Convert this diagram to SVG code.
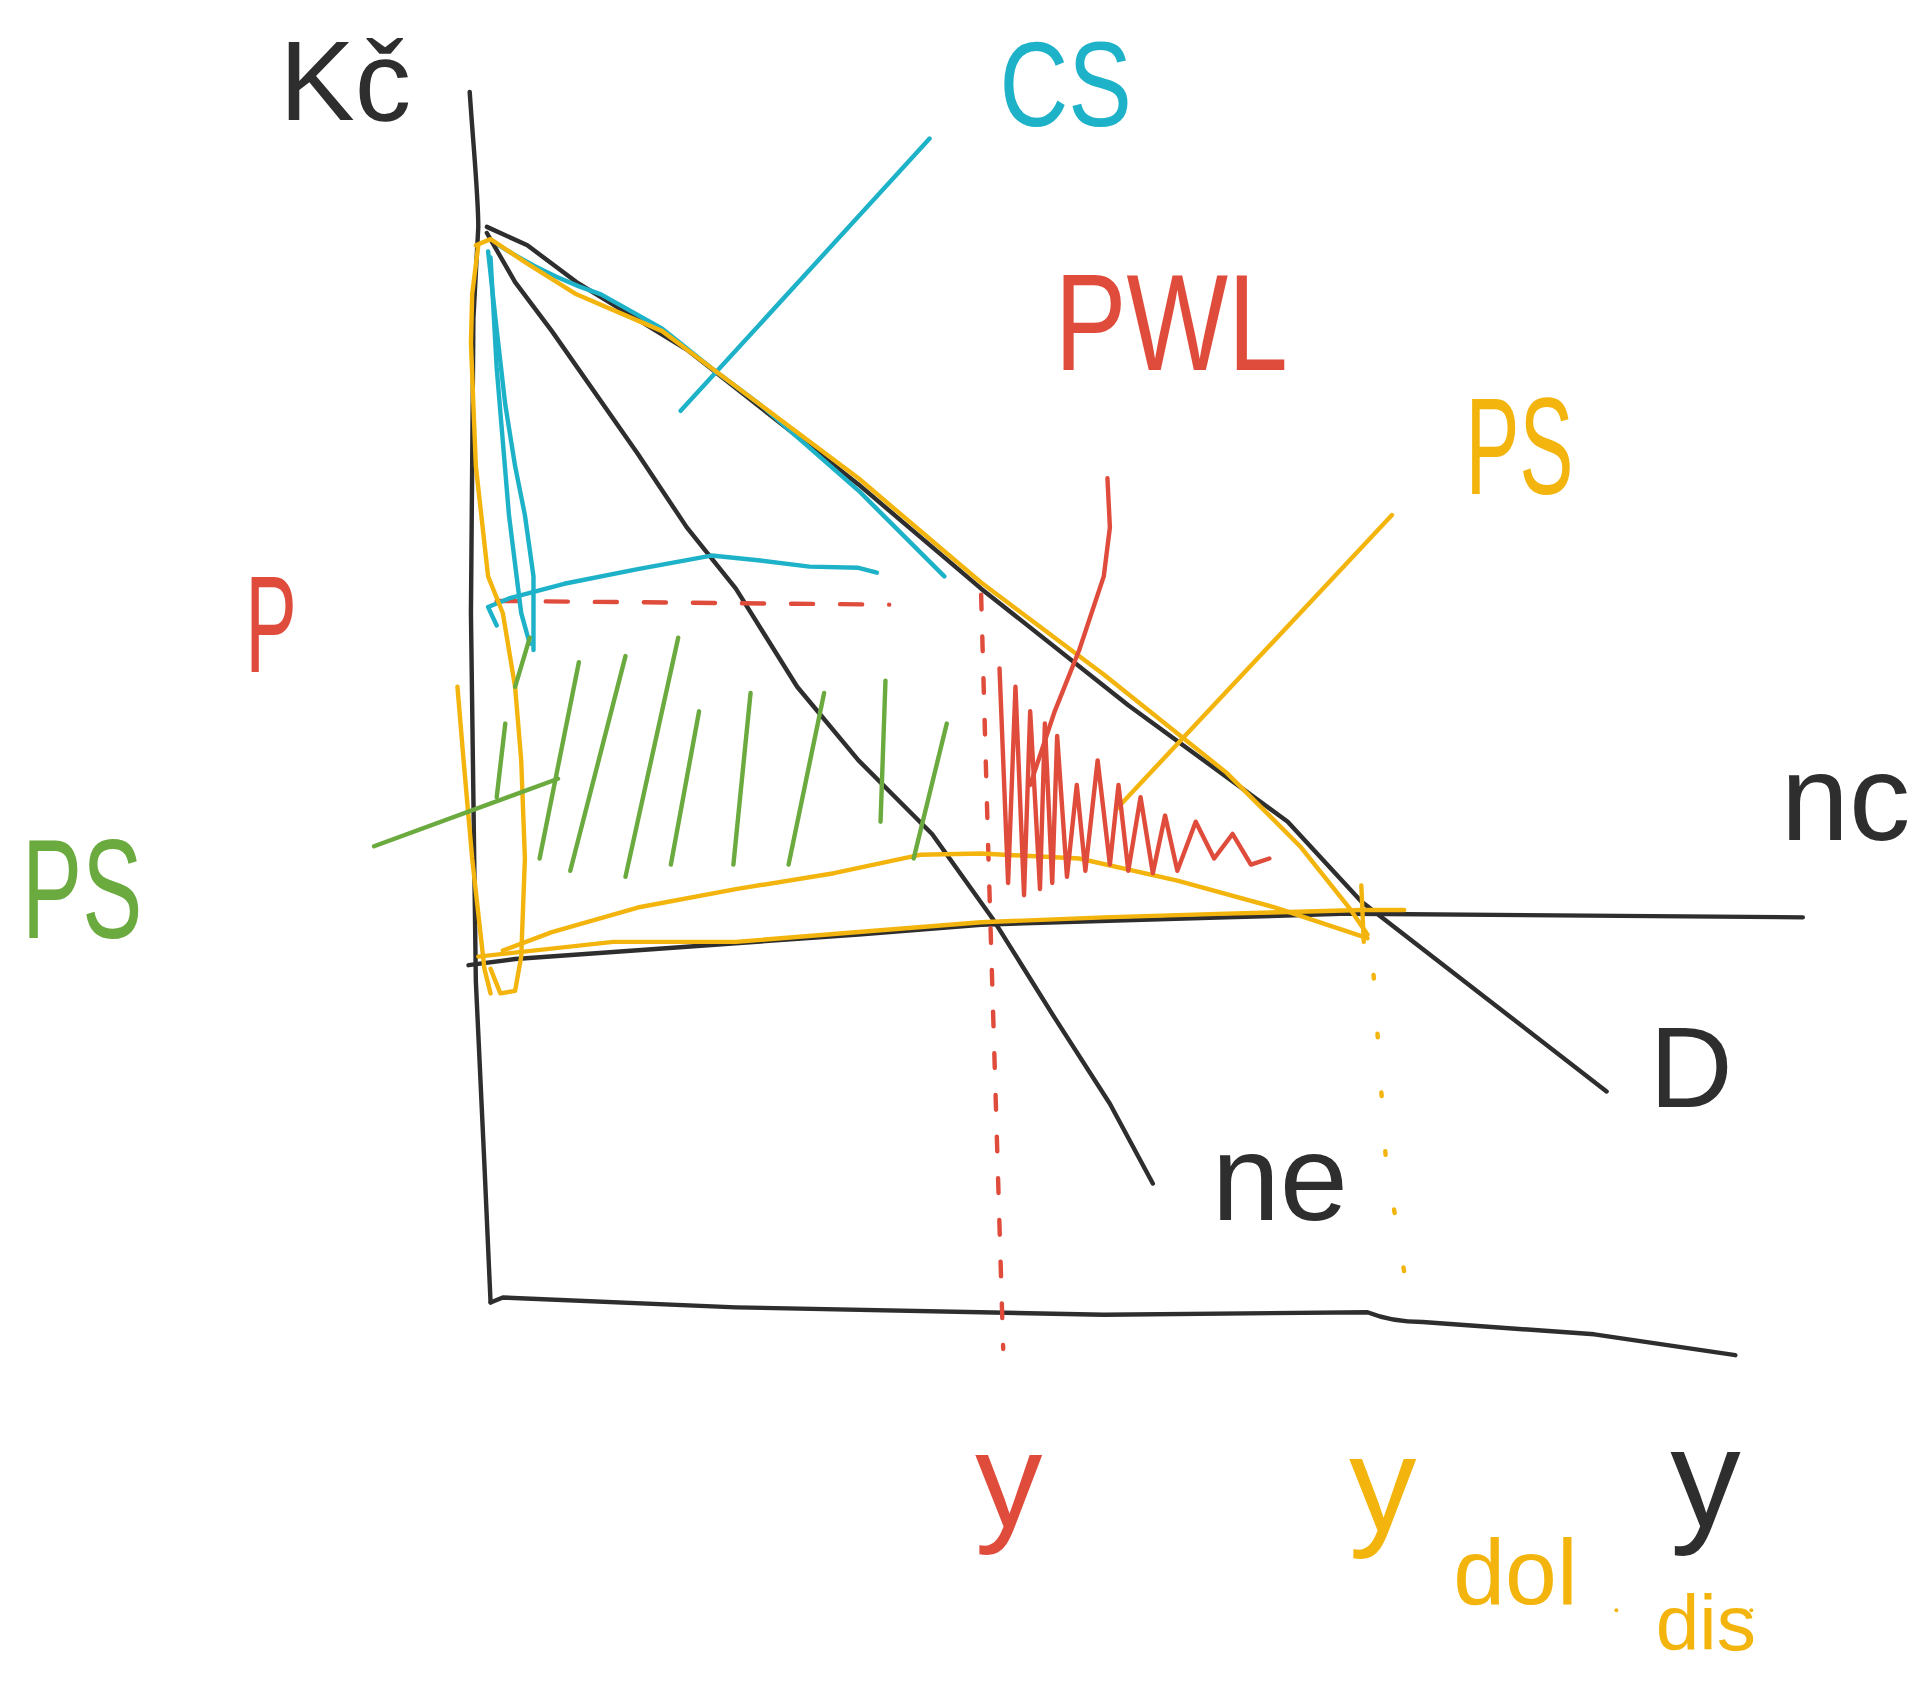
<svg xmlns="http://www.w3.org/2000/svg" width="1923" height="1683" viewBox="0 0 1923 1683">
<style>
.s{fill:none;stroke-linecap:round;stroke-linejoin:round;stroke-width:3.6}
.k{stroke:#2e2e2e}
.c{stroke:#1eb2c9}
.r{stroke:#e04c3c}
.y{stroke:#f3b50d}
.g{stroke:#6aaa3e}
text{font-family:"Liberation Sans",Arial,sans-serif}
.tk{fill:#2e2e2e}.tc{fill:#1eb2c9}.tr{fill:#e04c3c}.ty{fill:#f3b50d}.tg{fill:#6aaa3e}
</style>
<rect width="1923" height="1683" fill="#fff"/>
<g transform="scale(1.2264)">
<g id="connectors">
<path class="s k" d="M383,75 C386,120 390,160 390,185 L386,260 L384,500 L388,800 L395,950 L400,1062"/>
<path class="s k" d="M400,1062 L410,1058 L600,1066 L900,1072 L1115,1070 Q1135,1078 1160,1078 L1300,1088 L1415,1105"/>
<path class="s k" d="M397,185 L430,200 L470,230 L560,285 L700,395 L800,480 L920,575 L1050,670 L1110,735 L1310,890"/>
<path class="s k" d="M397,190 L420,230 L450,270 L520,370 L560,430 L600,480 L650,560 L700,620 L760,680 L810,750 L860,830 L905,900 L940,965"/>
<path class="s k" d="M382,787 L420,782 L700,762 L800,754 L1000,748 L1100,745 L1470,748"/>
<path class="s r" stroke-dasharray="18 22" d="M405,490 L725,493"/>
<path class="s r" stroke-dasharray="12 22" d="M800,485 L806,700 L812,900 L818,1100"/>
<path class="s y" stroke-width="2.5" stroke-dasharray="3 45" d="M1120,795 L1130,945 L1150,1068"/>
</g>
<g id="cs-area">
<path class="s c" d="M407,200 C430,215 460,230 490,240 L540,268 L580,300 L620,330 L700,400 L770,470"/>
<path class="s c" d="M398,205 L404,260 L412,330 L420,380 L428,420 L435,470 L435,530"/>
<path class="s c" d="M400,210 L405,300 L415,420 L425,500 L432,525"/>
<path class="s c" d="M398,495 L415,488 L460,476 L520,464 L580,453 L620,457 L660,462 L700,463 L715,467 M398,495 L405,510"/>
<path class="s c" d="M758,113 L555,335"/>
</g>
<g id="ps-area">
<path class="s y" d="M390,200 L385,240 L384,280 L388,380 L398,470 L410,500 L420,560 L425,620 L428,700 L425,780 L420,808 L408,810 L400,790"/>
<path class="s y" d="M373,560 L378,620 L385,700 L395,790 L400,810"/>
<path class="s y" d="M388,200 L400,195 L430,215 L470,240 L540,270 L560,285 L700,390 L800,475 L900,550 L1000,630 L1060,690 L1100,740 L1115,762"/>
<path class="s y" d="M390,780 L500,768 L600,768 L700,760 L800,752 L900,748 L1000,745 L1110,742 L1145,742"/>
<path class="s y" d="M410,775 L450,760 L520,740 L600,725 L680,712 L750,697 L800,696 L880,700 L960,718 L1040,740 L1115,765"/>
<path class="s y" stroke-width="6" d="M1110,722 L1112,768"/>
<path class="s y" d="M1135,420 L910,660"/>
</g>
<g id="pwl-area">
<path class="s r" d="M815,545 L822,720 L828,560 L835,730 L840,580 L848,725 L852,590 L858,720 L862,600 L870,715 L878,640 L885,710 L895,620 L905,705 L912,640 L920,710 L930,650 L940,712 L950,665 L960,710 L975,670 L990,700 L1005,680 L1020,705 L1035,700"/>
<path class="s r" d="M903,390 L905,430 L900,470 L880,530 L860,580 L840,640"/>
</g>
<g id="green-ps">
<path class="s g" d="M440,700 L472,540 M465,710 L510,535 M510,715 L553,520 M547,705 L570,580 M598,705 L612,565 M643,705 L672,565 M718,670 L722,555 M745,700 L772,590 M405,650 L412,590 M420,560 L432,520"/>
<path class="s g" d="M305,690 L455,635"/>
</g>
<g id="labels">
<text class="tk" x="228" y="98" font-size="92">Kč</text>
<text class="tc" x="815" y="103" font-size="98" textLength="108" lengthAdjust="spacingAndGlyphs">CS</text>
<text class="tr" x="860" y="302" font-size="112" textLength="190" lengthAdjust="spacingAndGlyphs">PWL</text>
<text class="ty" x="1195" y="403" font-size="112" textLength="88" lengthAdjust="spacingAndGlyphs">PS</text>
<text class="tr" x="200" y="548" font-size="112" textLength="42" lengthAdjust="spacingAndGlyphs">P</text>
<text class="tg" x="18" y="765" font-size="115" textLength="98" lengthAdjust="spacingAndGlyphs">PS</text>
<text class="tk" x="1452" y="685" font-size="100">nc</text>
<text class="tk" x="1345" y="903" font-size="94">D</text>
<text class="tk" x="988" y="995" font-size="100">ne</text>
<text class="tr" x="795" y="1245" font-size="110">y</text>
<text class="ty" x="1100" y="1248" font-size="110">y</text>
<text class="ty" x="1185" y="1308" font-size="76">dol</text>
<circle cx="1318" cy="1313" r="1.6" fill="#f3b50d"/>
<circle cx="1428" cy="1313" r="1.6" fill="#f3b50d"/>
<text class="tk" x="1362" y="1245" font-size="115">y</text>
<text class="ty" x="1350" y="1345" font-size="64">dis</text>
</g>
</g>
</svg>
